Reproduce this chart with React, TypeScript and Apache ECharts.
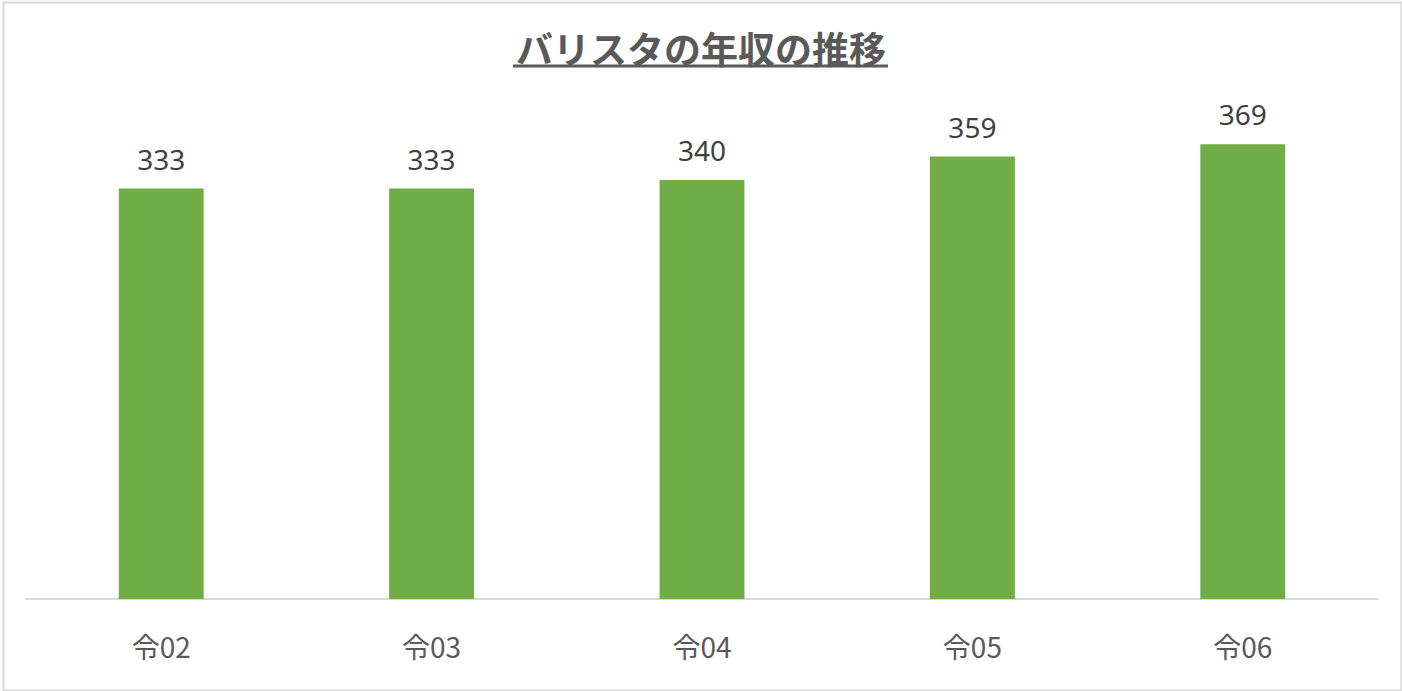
import React, { useEffect, useRef } from "react";
import * as echarts from "echarts";

const categories = ["令02", "令03", "令04", "令05", "令06"];
const values = [333, 333, 340, 359, 369];
const titleText = "バリスタの年収の推移";

export default function App() {
  const ref = useRef<HTMLDivElement>(null);
  useEffect(() => {
    document.body.style.margin = "0";
    if (!ref.current) return;
    const chart = echarts.init(ref.current, undefined, { renderer: "svg" });
    chart.setOption({
      animation: false,
      backgroundColor: "#ffffff",
      textStyle: { fontFamily: "'Noto Sans CJK JP', 'Noto Sans', sans-serif" },
      title: {
        text: titleText,
        left: "center",
        top: 24,
        textStyle: {
          fontSize: 37,
          fontWeight: "bold",
          color: "#595959",
          fontFamily: "'Noto Sans CJK JP', sans-serif",
        },
      },
      graphic: [
        {
          type: "rect",
          left: 1,
          top: 0,
          shape: { width: 1398, height: 688 },
          style: { fill: "none", stroke: "#d9d9d9", lineWidth: 2 },
          silent: true,
        },
        {
          type: "line",
          shape: { x1: 513, y1: 66, x2: 888, y2: 66 },
          style: { stroke: "#595959", lineWidth: 3 },
          silent: true,
        },
      ],
      grid: { left: 26, right: 24, top: 106, height: 493, containLabel: false },
      xAxis: {
        type: "category",
        data: categories,
        axisLine: { lineStyle: { color: "#d9d9d9", width: 2 } },
        axisTick: { show: false },
        axisLabel: {
          color: "#595959",
          fontSize: 28,
          margin: 33,
          fontFamily: "'Noto Sans CJK JP', sans-serif",
        },
      },
      yAxis: {
        type: "value",
        min: 0,
        max: 400,
        show: false,
        splitLine: { show: false },
      },
      series: [
        {
          type: "bar",
          data: values,
          barWidth: "31.4%",
          itemStyle: { color: "#70ad47" },
          label: {
            show: true,
            position: "top",
            distance: 16,
            color: "#404040",
            fontSize: 28,
            fontFamily: "'Noto Sans', sans-serif",
          },
        },
      ],
    });
    return () => chart.dispose();
  }, []);
  return <div ref={ref} style={{ width: 1402, height: 691 }} />;
}
